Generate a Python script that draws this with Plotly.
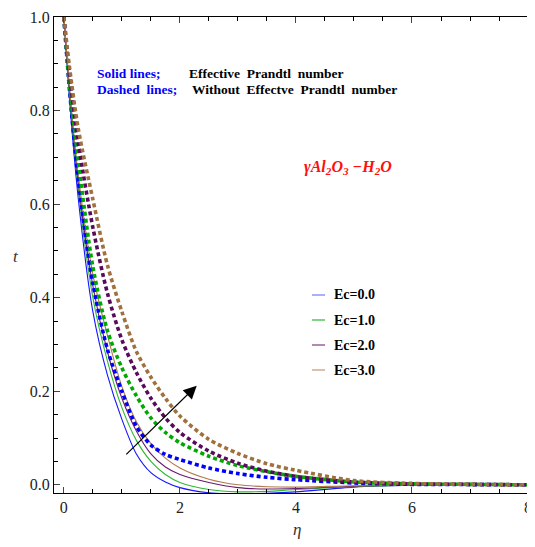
import plotly.graph_objects as go

# eta grid and temperature profiles
eta = [0, 0.1, 0.25, 0.5, 0.75, 1.0, 1.25, 1.5, 1.75, 2.0, 2.5, 3.0, 3.5, 4.0, 5.0, 6.0, 7.0, 8.0]

# solid lines: effective Prandtl number
solid_ec0 = [1, 0.82, 0.61, 0.37, 0.235, 0.14, 0.066, 0.026, 0.006, -0.006, -0.017, -0.019, -0.018, -0.015, -0.005, -0.001, 0, 0]
solid_ec1 = [1, 0.83, 0.63, 0.40, 0.265, 0.165, 0.095, 0.05, 0.022, 0.005, -0.01, -0.015, -0.014, -0.01, -0.004, -0.001, 0, 0]
solid_ec2 = [1, 0.84, 0.645, 0.425, 0.285, 0.185, 0.115, 0.066, 0.038, 0.022, 0.005, -0.006, -0.009, -0.008, -0.003, -0.001, 0, 0]
solid_ec3 = [1, 0.845, 0.66, 0.45, 0.32, 0.21, 0.135, 0.088, 0.057, 0.036, 0.012, 0.0, -0.004, -0.005, -0.002, -0.001, 0, 0]

# dashed lines: without effective Prandtl number
dash_ec0 = [1, 0.84, 0.65, 0.43, 0.29, 0.20, 0.125, 0.085, 0.065, 0.054, 0.036, 0.024, 0.016, 0.011, 0.004, 0.001, 0.0005, 0]
dash_ec1 = [1, 0.85, 0.69, 0.466, 0.33, 0.25, 0.19, 0.143, 0.112, 0.09, 0.061, 0.041, 0.028, 0.018, 0.006, 0.002, 0.001, 0]
dash_ec2 = [1, 0.875, 0.73, 0.55, 0.41, 0.31, 0.24, 0.185, 0.143, 0.112, 0.072, 0.046, 0.029, 0.018, 0.006, 0.002, 0.001, 0]
dash_ec3 = [1, 0.89, 0.76, 0.61, 0.47, 0.37, 0.285, 0.23, 0.185, 0.147, 0.097, 0.067, 0.045, 0.031, 0.009, 0.003, 0.001, 0]

labels = ['Ec=0.0', 'Ec=1.0', 'Ec=2.0', 'Ec=3.0']
solid_colors = ['#1515ff', '#2fb82f', '#6a1a6a', '#b07a4a']
dash_colors = ['#0000ff', '#00a800', '#5a0a5a', '#a0703f']
legend_colors = ['#8080ff', '#3cbc3c', '#8a4a8a', '#c8a07c']

# the page body has an 8px margin, so the figure is drawn 8px in from the corner
OFF = 8
W, H = 535 - OFF, 547 - 2 * OFF
ML, MR, MT, MB = 54 - OFF, 0, 17 - OFF, H - (493 - OFF)

def px(x):
    return (x - OFF - ML) / (W - ML - MR)

def py(y):
    return (H - MB - (y - OFF)) / (H - MT - MB)

FONT = 'Liberation Serif'

fig = go.Figure()

for ys, c in zip([solid_ec0, solid_ec1, solid_ec2, solid_ec3], solid_colors):
    fig.add_trace(go.Scatter(x=eta, y=ys, mode='lines', line=dict(color=c, width=1.1, shape='spline', smoothing=0.8),
                             showlegend=False, hoverinfo='skip'))

for ys, c in zip([dash_ec0, dash_ec1, dash_ec2, dash_ec3], dash_colors):
    fig.add_trace(go.Scatter(x=eta, y=ys, mode='lines', line=dict(color=c, width=3.6, dash='4px,3px', shape='spline', smoothing=0.8),
                             showlegend=False, hoverinfo='skip'))

# hand made legend
for i, (lab, c) in enumerate(zip(labels, legend_colors)):
    yy = 295 + 25 * i
    fig.add_shape(type='line', xref='paper', yref='paper', x0=px(312), x1=px(325), y0=py(yy), y1=py(yy),
                  line=dict(color=c, width=1.3))
    fig.add_annotation(xref='paper', yref='paper', x=px(332), y=py(yy), text='<b>' + lab + '</b>', showarrow=False,
                       xanchor='left', yanchor='middle', font=dict(family=FONT, size=14, color='black'))

notes = [
    (95, 73, '<b>Solid lines;</b>', '#0000ff'),
    (187, 73, '<b>Effective  Prandtl  number</b>', 'black'),
    (95, 89, '<b>Dashed  lines;</b>', '#0000ff'),
    (190, 89, '<b>Without  Effectve  Prandtl  number</b>', 'black'),
]
for x, y, txt, col in notes:
    fig.add_annotation(xref='paper', yref='paper', x=px(x), y=py(y), text=txt, showarrow=False,
                       xanchor='left', yanchor='middle', font=dict(family=FONT, size=13.5, color=col))

fig.add_annotation(xref='paper', yref='paper', x=px(302), y=py(167),
                   text='<b><i>γAl<sub>2</sub>O<sub>3</sub> −H<sub>2</sub>O</i></b>', showarrow=False,
                   xanchor='left', yanchor='middle', font=dict(family=FONT, size=16, color='#ff1010'))

# arrow showing increasing Ec
fig.add_annotation(x=2.29, y=0.212, ax=1.05, ay=0.062, xref='x', yref='y', axref='x', ayref='y',
                   text='', showarrow=True, arrowhead=2, arrowsize=2.2, arrowwidth=1.2, arrowcolor='black')

# axis titles
fig.add_annotation(xref='paper', yref='paper', x=px(297), y=py(529), text='<i>η</i>', showarrow=False,
                   xanchor='center', yanchor='middle', font=dict(family=FONT, size=17, color='#333'))
fig.add_annotation(xref='paper', yref='paper', x=px(16), y=py(256), text='<i>t</i>', showarrow=False,
                   xanchor='center', yanchor='middle', font=dict(family=FONT, size=17, color='#333'))

fig.update_xaxes(range=[-0.17, 8.12], tickvals=[0, 2, 4, 6, 8], ticks='inside', ticklen=6, tickwidth=1,
                 minor=dict(dtick=0.5, tick0=0, ticks='inside', ticklen=3.5, tickcolor='black'),
                 showline=True, linecolor='black', linewidth=1.3, mirror='ticks', showgrid=False, zeroline=False,
                 automargin=False, ticklabeloverflow='allow', tickfont=dict(family=FONT, size=16, color='#222'))
fig.update_yaxes(range=[-0.0175, 1.0], tickvals=[0, 0.2, 0.4, 0.6, 0.8, 1.0], tickformat='.1f', ticks='inside',
                 ticklen=6, tickwidth=1,
                 minor=dict(dtick=0.05, tick0=0, ticks='inside', ticklen=3.5, tickcolor='black'),
                 showline=True, linecolor='black', linewidth=1.3, mirror=False, showgrid=False, zeroline=False,
                 automargin=False, tickfont=dict(family=FONT, size=16, color='#222'))

fig.update_layout(width=W, height=H, margin=dict(l=ML, r=MR, t=MT, b=MB, autoexpand=False), plot_bgcolor='white',
                  paper_bgcolor='white', showlegend=False)

fig.write_html('out.html')
